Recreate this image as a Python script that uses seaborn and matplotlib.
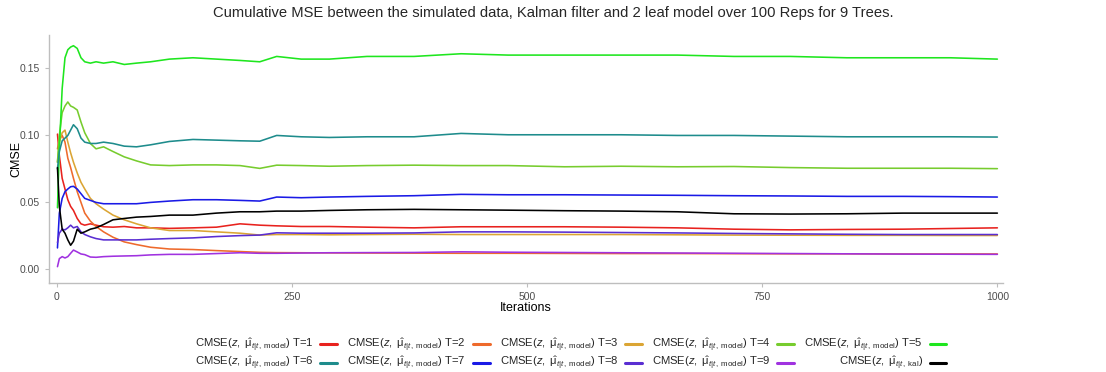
import matplotlib
matplotlib.use("Agg")
import matplotlib.pyplot as plt
import seaborn as sns
import pandas as pd
from matplotlib.lines import Line2D

# ---- data ----
iters = [1, 3, 6, 9, 12, 15, 18, 22, 26, 30, 36, 42, 50, 60, 72, 85, 100, 120, 145, 170,
         195, 216, 234, 260, 290, 330, 380, 430, 480, 540, 600, 660, 720, 780, 840, 900, 950, 1000]

t1 = [0.101, 0.085, 0.068, 0.060, 0.052, 0.047, 0.044, 0.038, 0.034, 0.033, 0.034, 0.033, 0.0318,
      0.0315, 0.032, 0.031, 0.031, 0.0306, 0.031, 0.0315, 0.034, 0.033, 0.0325, 0.032, 0.032, 0.0315,
      0.031, 0.0318, 0.0318, 0.0318, 0.0315, 0.031, 0.030, 0.0295, 0.0298, 0.030, 0.0305, 0.031]
t2 = [0.090, 0.097, 0.100, 0.095, 0.083, 0.076, 0.068, 0.058, 0.050, 0.042, 0.036, 0.032, 0.028,
      0.024, 0.0205, 0.0185, 0.0165, 0.0152, 0.0148, 0.014, 0.0133, 0.0127, 0.0125, 0.0124, 0.0123,
      0.0122, 0.0121, 0.012, 0.012, 0.0119, 0.0118, 0.0118, 0.0117, 0.0116, 0.0116, 0.0115, 0.0115, 0.0115]
t3 = [0.080, 0.095, 0.102, 0.104, 0.095, 0.087, 0.080, 0.072, 0.065, 0.060, 0.053, 0.049, 0.045,
      0.0405, 0.037, 0.034, 0.031, 0.029, 0.029, 0.028, 0.027, 0.0256, 0.026, 0.026, 0.0258, 0.026,
      0.0262, 0.026, 0.026, 0.026, 0.026, 0.0258, 0.0256, 0.0255, 0.0254, 0.0254, 0.0253, 0.0253]
t4 = [0.080, 0.100, 0.117, 0.122, 0.125, 0.122, 0.121, 0.119, 0.110, 0.102, 0.094, 0.090, 0.0915,
      0.088, 0.084, 0.081, 0.078, 0.0775, 0.078, 0.078, 0.0775, 0.0754, 0.0778, 0.0775, 0.077, 0.0775,
      0.0778, 0.0775, 0.0775, 0.0766, 0.077, 0.0766, 0.0768, 0.076, 0.0755, 0.0755, 0.0755, 0.0752]
t5 = [0.046, 0.090, 0.135, 0.158, 0.164, 0.166, 0.167, 0.165, 0.158, 0.155, 0.154, 0.155, 0.154,
      0.155, 0.153, 0.154, 0.155, 0.157, 0.158, 0.157, 0.156, 0.155, 0.159, 0.157, 0.157, 0.159,
      0.159, 0.161, 0.160, 0.160, 0.160, 0.160, 0.159, 0.159, 0.158, 0.158, 0.158, 0.157]
t6 = [0.075, 0.088, 0.096, 0.098, 0.100, 0.104, 0.108, 0.105, 0.098, 0.095, 0.094, 0.094, 0.095,
      0.094, 0.092, 0.0915, 0.093, 0.0955, 0.097, 0.0965, 0.096, 0.0957, 0.100, 0.099, 0.0985, 0.099,
      0.099, 0.1015, 0.1005, 0.1005, 0.1005, 0.100, 0.100, 0.0995, 0.099, 0.099, 0.099, 0.0988]
t7 = [0.016, 0.042, 0.053, 0.058, 0.060, 0.0617, 0.062, 0.060, 0.0565, 0.053, 0.0515, 0.050, 0.049,
      0.049, 0.049, 0.049, 0.050, 0.051, 0.052, 0.052, 0.0515, 0.051, 0.054, 0.0535, 0.054, 0.0545,
      0.055, 0.056, 0.0557, 0.0557, 0.0555, 0.0553, 0.055, 0.0548, 0.0545, 0.0545, 0.0543, 0.054]
t8 = [0.020, 0.027, 0.030, 0.0295, 0.031, 0.033, 0.031, 0.032, 0.028, 0.026, 0.0243, 0.023, 0.022,
      0.022, 0.022, 0.022, 0.0225, 0.023, 0.0235, 0.0245, 0.0252, 0.0256, 0.0273, 0.027, 0.027, 0.027,
      0.0272, 0.028, 0.028, 0.0278, 0.0275, 0.0272, 0.0268, 0.0265, 0.0262, 0.026, 0.026, 0.026]
t9 = [0.002, 0.008, 0.0095, 0.0085, 0.0095, 0.012, 0.0144, 0.013, 0.0115, 0.011, 0.0092, 0.009,
      0.0095, 0.0098, 0.010, 0.0102, 0.0108, 0.0112, 0.0112, 0.0118, 0.0124, 0.012, 0.012, 0.0122,
      0.0124, 0.0125, 0.0126, 0.0131, 0.0128, 0.0126, 0.0124, 0.0122, 0.012, 0.0118, 0.0116, 0.0114,
      0.0113, 0.0112]
kal = [0.076, 0.047, 0.030, 0.027, 0.022, 0.018, 0.021, 0.030, 0.027, 0.028, 0.030, 0.031, 0.0335,
       0.037, 0.038, 0.039, 0.0395, 0.0405, 0.0405, 0.042, 0.043, 0.043, 0.0435, 0.0435, 0.044, 0.0445,
       0.0448, 0.0445, 0.0442, 0.0438, 0.0435, 0.043, 0.0415, 0.0413, 0.0415, 0.042, 0.042, 0.042]

series_names = ["T=1", "T=2", "T=3", "T=4", "T=5", "T=6", "T=7", "T=8", "T=9", "kal"]
series_values = [t1, t2, t3, t4, t5, t6, t7, t8, t9, kal]
colors = ["#E8221E", "#EE6A2C", "#DBA534", "#77CC2E", "#1EE61E",
          "#1E8C8C", "#1A1AE6", "#5A2ED2", "#A032E0", "#000000"]
model_lab = r"CMSE$(z,\ \hat{\mathrm{μ}}_{t|t,\ \mathrm{model}})$ "
kal_lab = r"CMSE$(z,\ \hat{\mathrm{μ}}_{t|t,\ \mathrm{kal}})$"
labels = [model_lab + n for n in series_names[:9]] + [kal_lab]

rows = []
for name, vals in zip(series_names, series_values):
    for it, v in zip(iters, vals):
        rows.append({"Iterations": it, "CMSE": v, "series": name})
df = pd.DataFrame(rows)

# ---- style ----
sns.set_theme(style="white")
plt.rcParams["font.family"] = ["Liberation Sans", "DejaVu Sans"]
plt.rcParams["mathtext.fontset"] = "custom"
plt.rcParams["mathtext.rm"] = "Liberation Sans"
plt.rcParams["mathtext.it"] = "Liberation Sans:italic"
plt.rcParams["mathtext.bf"] = "Liberation Sans:bold"

fig = plt.figure(figsize=(11.06, 3.72), dpi=100)
ax = fig.add_axes([0.0443, 0.2392, 0.8626, 0.6667])

palette = dict(zip(series_names, colors))
sns.lineplot(data=df, x="Iterations", y="CMSE", hue="series", hue_order=series_names,
             palette=palette, linewidth=1.15, ax=ax, legend=False, estimator=None)

ax.set_xlim(-8, 1006)
ax.set_ylim(-0.0102, 0.175)
ax.set_xticks([0, 250, 500, 750, 1000])
ax.set_yticks([0.00, 0.05, 0.10, 0.15])
ax.set_yticklabels(["0.00", "0.05", "0.10", "0.15"])
ax.tick_params(axis="both", colors="#BEBEBE", labelcolor="#4D4D4D", labelsize=7.5,
               length=3, width=0.8, direction="out", bottom=True, left=True)
for s in ["top", "right"]:
    ax.spines[s].set_visible(False)
for s in ["left", "bottom"]:
    ax.spines[s].set_color("#BEBEBE")
    ax.spines[s].set_linewidth(1.0)
ax.set_xlabel("Iterations", fontsize=9, color="black", labelpad=0)
ax.set_ylabel("CMSE", fontsize=9, color="black")
ax.yaxis.set_label_coords(-0.028, 0.5)
ax.grid(False)

fig.suptitle("Cumulative MSE between the simulated data, Kalman filter and 2 leaf model over 100 Reps for 9 Trees.",
             x=0.5, y=0.985, fontsize=10.6, va="top")

# legend: rows read T=1..T=5 / T=6..T=9, kal ; matplotlib fills column-wise
handles = [Line2D([0], [0], color=c, lw=2.2) for c in colors]
order = [0, 5, 1, 6, 2, 7, 3, 8, 4, 9]
fig.legend([handles[i] for i in order], [labels[i] for i in order],
           loc="center", bbox_to_anchor=(0.516, 0.047), ncol=5, frameon=False,
           fontsize=8.1, markerfirst=False, handlelength=1.5, handletextpad=0.6,
           columnspacing=0.9, labelspacing=0.1)

fig.savefig("out.png", dpi=100)
